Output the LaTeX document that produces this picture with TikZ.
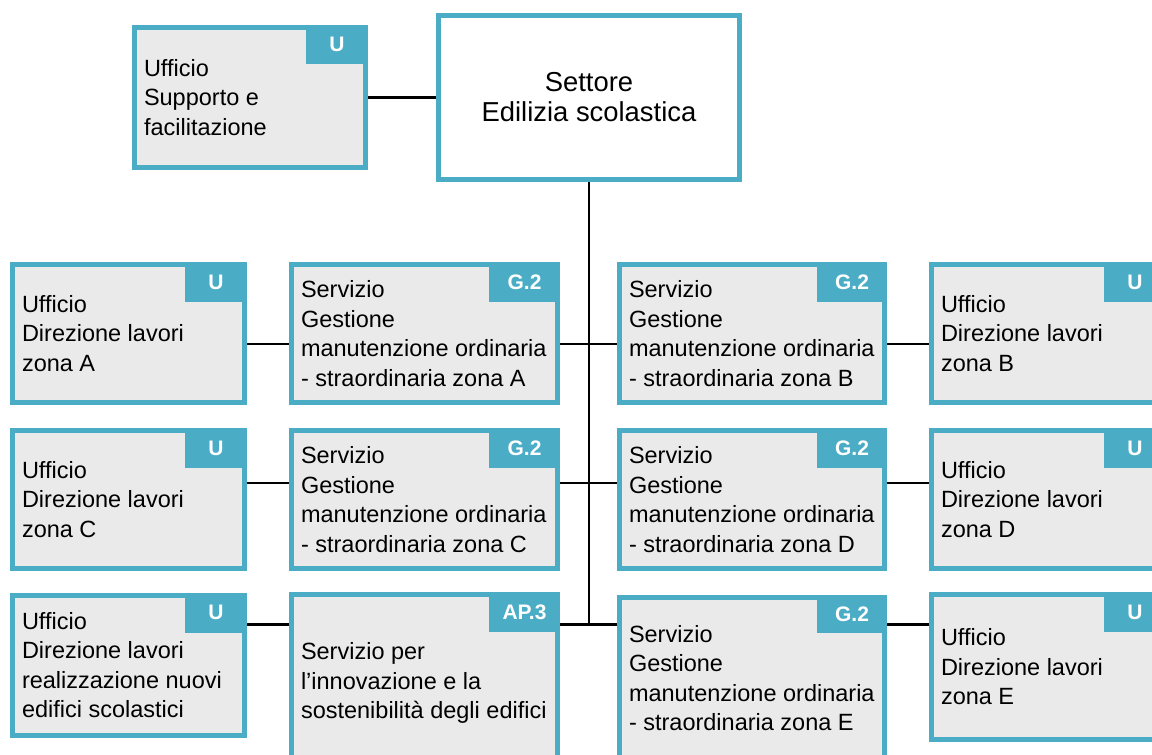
\documentclass[tikz,border=0pt]{standalone}
\usepackage{fontspec}
\setmainfont{Liberation Sans}
\usetikzlibrary{positioning}
\definecolor{bordo}{HTML}{4BACC6}
\definecolor{sfondo}{HTML}{EAEAEA}

\begin{document}
\begin{tikzpicture}
	[x=0.5pt,y=-0.5pt,
		box/.style={rectangle,draw=bordo,line width=2.5pt,fill=sfondo,inner sep=0pt},
		ufficio/.style={box,minimum width=116pt,minimum height=69pt},
		servizio/.style={box,minimum width=133pt,minimum height=69pt},
		testo/.style={inner sep=0pt,outer sep=0pt,align=left,font=\fontsize{11.75}{14.75}\selectfont},
		sigla/.style={anchor=north east,fill=bordo,text=white,inner sep=0pt,outer sep=0pt,
			minimum height=20pt,font=\fontsize{10.5}{12}\selectfont\bfseries},
		linea/.style={line width=1.3pt}]

	\path[use as bounding box,clip] (0,0) rectangle (1152,755);
	\fill[white] (0,0) rectangle (1152,755);

	% vertice
	\node[box,fill=white,minimum width=150.5pt,minimum height=82pt,align=center,
		font=\fontsize{13.7}{15}\selectfont] (settore) at (589,97.5) {Settore\\Edilizia scolastica};
	\node[ufficio,minimum width=115.5pt,minimum height=70pt] (supporto) at (250,97.5) {};
	\node[testo,right=6pt of supporto.west] (supportoT) {Ufficio\\Supporto e\\facilitazione};
	\node[sigla,minimum width=31pt,minimum height=19.5pt] (supportoS) at (supporto.north east) {U};

	% riga 1
	\node[ufficio] (b11) at (128.5,333.5) {};
	\node[servizio] (b12) at (424.5,333.5) {};
	\node[servizio,minimum width=132.5pt] (b13) at (752,333.5) {};
	\node[ufficio] (b14) at (1047.5,333.5) {};
	\node[testo,right=6pt of b11.west] (b11T) {Ufficio\\Direzione lavori\\zona A};
	\node[testo,right=6pt of b12.west] (b12T) {Servizio\\Gestione\\manutenzione ordinaria\\- straordinaria zona A};
	\node[testo,right=6pt of b13.west] (b13T) {Servizio\\Gestione\\manutenzione ordinaria\\- straordinaria zona B};
	\node[testo,right=6pt of b14.west] (b14T) {Ufficio\\Direzione lavori\\zona B};

	% riga 2
	\node[ufficio] (b21) at (128.5,499.5) {};
	\node[servizio] (b22) at (424.5,499.5) {};
	\node[servizio,minimum width=132.5pt] (b23) at (752,499.5) {};
	\node[ufficio] (b24) at (1047.5,499.5) {};
	\node[testo,right=6pt of b21.west] (b21T) {Ufficio\\Direzione lavori\\zona C};
	\node[testo,right=6pt of b22.west] (b22T) {Servizio\\Gestione\\manutenzione ordinaria\\- straordinaria zona C};
	\node[testo,right=6pt of b23.west] (b23T) {Servizio\\Gestione\\manutenzione ordinaria\\- straordinaria zona D};
	\node[testo,right=6pt of b24.west] (b24T) {Ufficio\\Direzione lavori\\zona D};

	% riga 3
	\node[ufficio,minimum height=70pt] (b31) at (128.5,665) {};
	\node[servizio,minimum height=89pt] (b32) at (424.5,683.5) {};
	\node[servizio,minimum width=132.5pt,minimum height=87.5pt] (b33) at (752,685) {};
	\node[ufficio,minimum height=72.5pt] (b34) at (1047.5,667) {};
	\node[testo,right=6pt of b31.west] (b31T) {Ufficio\\Direzione lavori\\realizzazione nuovi\\edifici scolastici};
	\node[testo,below right=25.25pt and 6pt of b32.north west] (b32T) {Servizio per\\l’innovazione e la\\sostenibilità degli edifici};
	\node[testo,below right=15pt and 6pt of b33.north west] (b33T) {Servizio\\Gestione\\manutenzione ordinaria\\- straordinaria zona E};
	\node[testo,right=6pt of b34.west] (b34T) {Ufficio\\Direzione lavori\\zona E};

	% sigle
	\node[sigla,minimum width=31pt] (b11S) at (b11.north east) {U};
	\node[sigla,minimum width=35.5pt] (b12S) at (b12.north east) {G.2};
	\node[sigla,minimum width=35pt] (b13S) at (b13.north east) {G.2};
	\node[sigla,minimum width=31pt] (b14S) at (b14.north east) {U};
	\node[sigla,minimum width=31pt] (b21S) at (b21.north east) {U};
	\node[sigla,minimum width=35.5pt] (b22S) at (b22.north east) {G.2};
	\node[sigla,minimum width=35pt] (b23S) at (b23.north east) {G.2};
	\node[sigla,minimum width=31pt] (b24S) at (b24.north east) {U};
	\node[sigla,minimum width=31pt] (b31S) at (b31.north east) {U};
	\node[sigla,minimum width=35.5pt] (b32S) at (b32.north east) {AP.3};
	\node[sigla,minimum width=35pt,minimum height=19pt] (b33S) at (b33.north east) {G.2};
	\node[sigla,minimum width=31pt] (b34S) at (b34.north east) {U};

	% collegamenti
	\coordinate (r1) at (589,344);
	\coordinate (r2) at (589,483);
	\coordinate (r3) at (589,624.5);

	\path[linea]
	(supporto.east) edge (settore.west)
	(settore.south) edge (r3)
	;
	\foreach \r in {1,2,3}
		\path[linea]
		(b\r1.east |- r\r) edge (b\r2.west |- r\r)
		(b\r2.east |- r\r) edge (b\r3.west |- r\r)
		(b\r3.east |- r\r) edge (b\r4.west |- r\r)
		;

\end{tikzpicture}
\end{document}
